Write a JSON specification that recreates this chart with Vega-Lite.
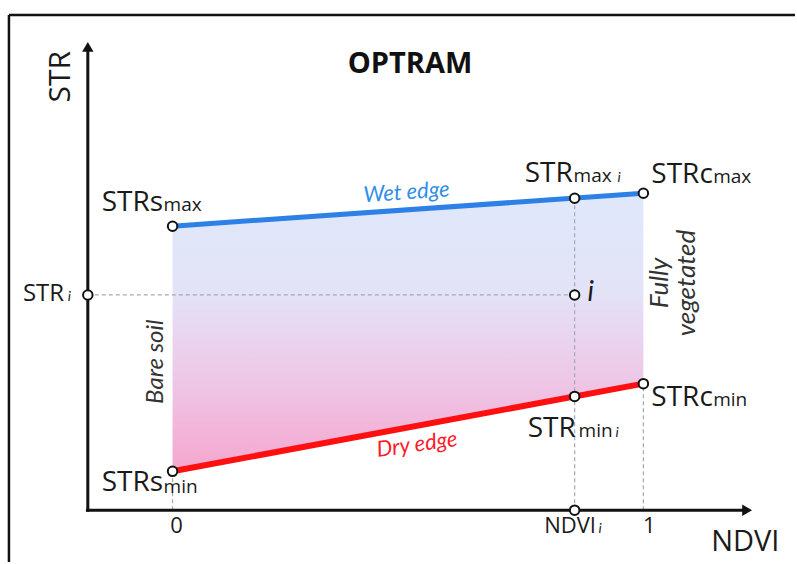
{
  "$schema": "https://vega.github.io/schema/vega-lite/v6.json",
  "width": 797,
  "height": 564,
  "autosize": {"type": "fit", "contains": "padding"},
  "padding": 0,
  "background": "white",
  "config": {"view": {"stroke": null}},
  "encoding": {
    "x": {"field": "ndvi", "type": "quantitative", "axis": null, "scale": {"domain": [-0.3665, 1.322], "nice": false, "zero": false}},
    "y": {"field": "str", "type": "quantitative", "axis": null, "scale": {"domain": [-0.13, 1.28], "nice": false, "zero": false}}
  },
  "layer": [
    {
      "data": {"values": [
        {"ndvi": -0.3475, "str": 1.2425, "ndvi2": 1.322, "str2": 1.2425},
        {"ndvi": -0.3475, "str": 1.2425, "ndvi2": -0.3475, "str2": -0.13}
      ]},
      "mark": {"type": "rule", "color": "#111111", "strokeWidth": 2.5},
      "encoding": {"x2": {"field": "ndvi2"}, "y2": {"field": "str2"}}
    },
    {
      "data": {"values": [
        {"ndvi": 0, "str": 0.7125, "str2": 0.0975},
        {"ndvi": 1, "str": 0.795, "str2": 0.3175}
      ]},
      "mark": {"type": "area", "color": {"gradient": "linear", "x1": 0, "y1": 0, "x2": 0, "y2": 1, "stops": [
        {"offset": 0, "color": "#dfe8fa"},
        {"offset": 0.35, "color": "#e3e3f7"},
        {"offset": 0.65, "color": "#edc9e8"},
        {"offset": 1, "color": "#f5a6ce"}
      ]}},
      "encoding": {"y2": {"field": "str2"}}
    },
    {
      "data": {"values": [
        {"ndvi": -0.18, "str": 0.54, "ndvi2": 0.854, "str2": 0.54},
        {"ndvi": 0.854, "str": 0, "ndvi2": 0.854, "str2": 0.7827},
        {"ndvi": 1, "str": 0, "ndvi2": 1, "str2": 0.3175},
        {"ndvi": 0, "str": 0, "ndvi2": 0, "str2": 0.0975}
      ]},
      "mark": {"type": "rule", "color": "#a4aab8", "strokeWidth": 1.2, "strokeDash": [4, 3]},
      "encoding": {"x2": {"field": "ndvi2"}, "y2": {"field": "str2"}}
    },
    {
      "data": {"values": [
        {"ndvi": -0.18, "str": -0.004, "ndvi2": -0.18, "str2": 1.16},
        {"ndvi": -0.184, "str": 0, "ndvi2": 1.22, "str2": 0}
      ]},
      "mark": {"type": "rule", "color": "#111111", "strokeWidth": 3},
      "encoding": {"x2": {"field": "ndvi2"}, "y2": {"field": "str2"}}
    },
    {
      "data": {"values": [{"ndvi": -0.18, "str": 1.1625}]},
      "mark": {"type": "point", "shape": "triangle-up", "filled": true, "color": "#111111", "size": 130, "opacity": 1}
    },
    {
      "data": {"values": [{"ndvi": 1.2203, "str": 0}]},
      "mark": {"type": "point", "shape": "triangle-right", "filled": true, "color": "#111111", "size": 130, "opacity": 1}
    },
    {
      "data": {"values": [{"ndvi": 0, "str": 0.7125}, {"ndvi": 1, "str": 0.795}]},
      "mark": {"type": "line", "color": "#2d80e6", "strokeWidth": 5}
    },
    {
      "data": {"values": [{"ndvi": 0, "str": 0.0975}, {"ndvi": 1, "str": 0.3175}]},
      "mark": {"type": "line", "color": "#ff1010", "strokeWidth": 6}
    },
    {
      "data": {"values": [
        {"ndvi": 0, "str": 0.7125},
        {"ndvi": 1, "str": 0.795},
        {"ndvi": 0.854, "str": 0.7827},
        {"ndvi": 0, "str": 0.0975},
        {"ndvi": 1, "str": 0.3175},
        {"ndvi": 0.854, "str": 0.2854},
        {"ndvi": 0.854, "str": 0.54},
        {"ndvi": -0.18, "str": 0.54},
        {"ndvi": 0.854, "str": 0}
      ]},
      "mark": {"type": "point", "shape": "circle", "filled": true, "fill": "white", "stroke": "#111111", "strokeWidth": 2, "size": 90, "opacity": 1}
    },
    {
      "data": {"values": [
        {"label": "STRs", "ndvi": -0.1504, "str": 0.75},
        {"label": "STR", "ndvi": 0.7479, "str": 0.8225},
        {"label": "STRc", "ndvi": 1.0169, "str": 0.82},
        {"label": "STRs", "ndvi": -0.1504, "str": 0.0475},
        {"label": "STRc", "ndvi": 1.0169, "str": 0.2625},
        {"label": "STR", "ndvi": 0.7542, "str": 0.1825}
      ]},
      "mark": {"type": "text", "font": "Open Sans", "fontSize": 28, "align": "left", "baseline": "alphabetic", "color": "#1a1a1a"},
      "encoding": {"text": {"field": "label"}}
    },
    {
      "data": {"values": [
        {"label": "max", "ndvi": -0.0191, "str": 0.75},
        {"label": "max", "ndvi": 0.8517, "str": 0.8225},
        {"label": "max", "ndvi": 1.1483, "str": 0.82},
        {"label": "min", "ndvi": -0.0191, "str": 0.0425},
        {"label": "min", "ndvi": 1.1483, "str": 0.2625},
        {"label": "min", "ndvi": 0.8623, "str": 0.1825}
      ]},
      "mark": {"type": "text", "font": "Open Sans", "fontSize": 19, "align": "left", "baseline": "alphabetic", "color": "#1a1a1a"},
      "encoding": {"text": {"field": "label"}}
    },
    {
      "data": {"values": [
        {"label": "i", "ndvi": 0.9449, "str": 0.8225},
        {"label": "i", "ndvi": 0.9407, "str": 0.1825},
        {"label": "i", "ndvi": -0.2225, "str": 0.525},
        {"label": "i", "ndvi": 0.9047, "str": -0.0575}
      ]},
      "mark": {"type": "text", "font": "Lato", "fontSize": 14, "fontStyle": "italic", "align": "left", "baseline": "alphabetic", "color": "#1a1a1a"},
      "encoding": {"text": {"field": "label"}}
    },
    {
      "data": {"values": [{"label": "STR", "ndvi": -0.3178, "str": 0.525}]},
      "mark": {"type": "text", "font": "Open Sans", "fontSize": 24, "align": "left", "baseline": "alphabetic", "color": "#1a1a1a"},
      "encoding": {"text": {"field": "label"}}
    },
    {
      "data": {"values": [
        {"label": "NDVI", "ndvi": 0.8443, "str": -0.0575},
        {"label": "1", "ndvi": 1.0127, "str": -0.0575},
        {"label": "0", "ndvi": 0.0085, "str": -0.0575}
      ]},
      "mark": {"type": "text", "font": "Open Sans", "fontSize": 22, "align": "center", "baseline": "alphabetic", "color": "#1a1a1a"},
      "encoding": {"text": {"field": "label"}}
    },
    {
      "data": {"values": [{"label": "NDVI", "ndvi": 1.144, "str": -0.1025}]},
      "mark": {"type": "text", "font": "Open Sans", "fontSize": 29, "align": "left", "baseline": "alphabetic", "color": "#1a1a1a"},
      "encoding": {"text": {"field": "label"}}
    },
    {
      "data": {"values": [{"label": "STR", "ndvi": -0.2182, "str": 1.0875}]},
      "mark": {"type": "text", "font": "Open Sans", "fontSize": 30, "angle": 270, "align": "center", "baseline": "alphabetic", "color": "#1a1a1a"},
      "encoding": {"text": {"field": "label"}}
    },
    {
      "data": {"values": [{"label": "OPTRAM", "ndvi": 0.5042, "str": 1.0975}]},
      "mark": {"type": "text", "font": "Open Sans", "fontSize": 29, "fontWeight": "bold", "align": "center", "baseline": "alphabetic", "color": "#111111"},
      "encoding": {"text": {"field": "label"}}
    },
    {
      "data": {"values": [{"label": "i", "ndvi": 0.8814, "str": 0.525}]},
      "mark": {"type": "text", "font": "Lato", "fontSize": 28, "fontStyle": "italic", "align": "left", "baseline": "alphabetic", "color": "#1a1a1a"},
      "encoding": {"text": {"field": "label"}}
    },
    {
      "data": {"values": [{"label": "Bare soil", "ndvi": -0.0212, "str": 0.3725}]},
      "mark": {"type": "text", "font": "Lato", "fontSize": 24, "fontStyle": "italic", "angle": 270, "align": "center", "baseline": "alphabetic", "color": "#333333"},
      "encoding": {"text": {"field": "label"}}
    },
    {
      "data": {"values": [{"label": "Fully\nvegetated", "ndvi": 1.053, "str": 0.57}]},
      "mark": {"type": "text", "font": "Lato", "fontSize": 26, "fontStyle": "italic", "angle": 270, "align": "center", "baseline": "alphabetic", "lineBreak": "\n", "lineHeight": 27, "color": "#333333"},
      "encoding": {"text": {"field": "label"}}
    },
    {
      "data": {"values": [{"label": "Wet edge", "ndvi": 0.4979, "str": 0.78}]},
      "mark": {"type": "text", "font": "Lato", "fontSize": 22, "fontStyle": "italic", "angle": 356, "align": "center", "baseline": "alphabetic", "color": "#2f8ee8"},
      "encoding": {"text": {"field": "label"}}
    },
    {
      "data": {"values": [{"label": "Dry edge", "ndvi": 0.5212, "str": 0.1475}]},
      "mark": {"type": "text", "font": "Lato", "fontSize": 22, "fontStyle": "italic", "angle": 352, "align": "center", "baseline": "alphabetic", "color": "#ff1a2a"},
      "encoding": {"text": {"field": "label"}}
    }
  ]
}
